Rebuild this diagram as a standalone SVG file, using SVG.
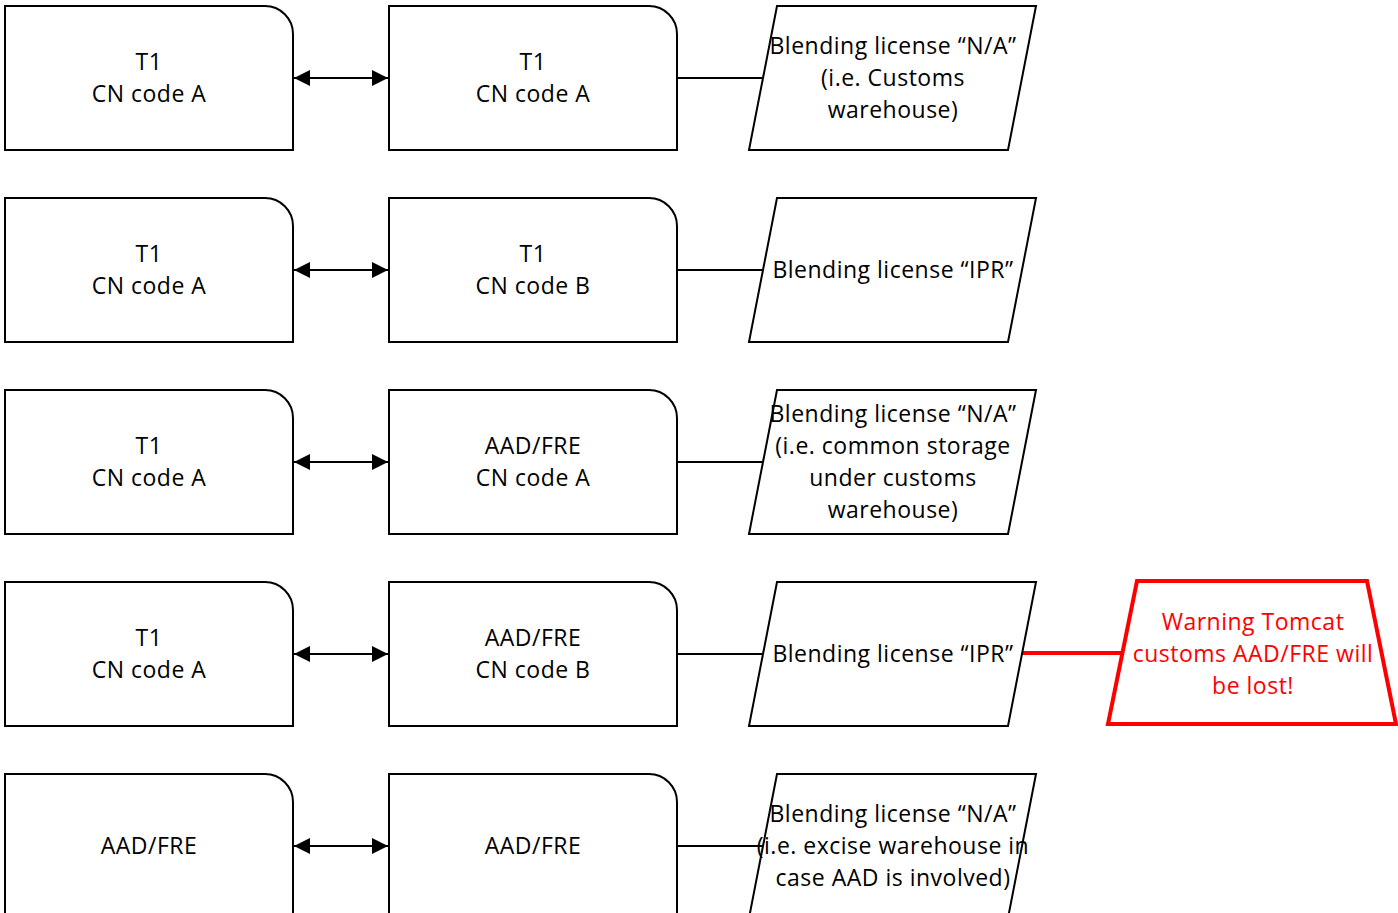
<svg xmlns="http://www.w3.org/2000/svg" width="1398" height="913" viewBox="0 0 1398 913">
<style>
.box{fill:#fff;stroke:#000;stroke-width:2}
.par{fill:#fff;stroke:#000;stroke-width:2}
.warn{fill:#fff;stroke:#ff0000;stroke-width:4;stroke-linejoin:miter}
text{font-family:"Open Sans","Liberation Sans",Arial,sans-serif;font-size:23px;letter-spacing:0.5px;fill:#000;text-anchor:middle}
.red{fill:#ff0000}
.ln{stroke:#000;stroke-width:2;fill:none}
.rln{stroke:#ff0000;stroke-width:4;fill:none}
</style>
<defs>
<path id="rbox" d="M0,0 H260 A28,28 0 0 1 288,28 V144 H0 Z"/>
<path id="para" d="M28,0 H287 L259,144 H0 Z"/>
<marker id="ah" viewBox="0 0 16 16" refX="16" refY="8" markerWidth="16" markerHeight="16" markerUnits="userSpaceOnUse" orient="auto-start-reverse">
<path d="M0,0 L16,8 L0,16 Z" fill="#000"/>
</marker>
</defs>
<g id="connectors">
<line class="ln" x1="294" y1="78" x2="388" y2="78" marker-start="url(#ah)" marker-end="url(#ah)"/>
<line class="ln" x1="677" y1="78" x2="763" y2="78"/>
<line class="ln" x1="294" y1="270" x2="388" y2="270" marker-start="url(#ah)" marker-end="url(#ah)"/>
<line class="ln" x1="677" y1="270" x2="763" y2="270"/>
<line class="ln" x1="294" y1="462" x2="388" y2="462" marker-start="url(#ah)" marker-end="url(#ah)"/>
<line class="ln" x1="677" y1="462" x2="763" y2="462"/>
<line class="ln" x1="294" y1="654" x2="388" y2="654" marker-start="url(#ah)" marker-end="url(#ah)"/>
<line class="ln" x1="677" y1="654" x2="763" y2="654"/>
<line class="rln" x1="1022" y1="653" x2="1121" y2="653"/>
<line class="ln" x1="294" y1="846" x2="388" y2="846" marker-start="url(#ah)" marker-end="url(#ah)"/>
<line class="ln" x1="677" y1="846" x2="763" y2="846"/>
</g>
<g id="r1a"><use href="#rbox" class="box" x="5" y="6"/><text x="149" y="70">T1</text><text x="149" y="102">CN code A</text></g>
<g id="r1b"><use href="#rbox" class="box" x="389" y="6"/><text x="533" y="70">T1</text><text x="533" y="102">CN code A</text></g>
<g id="r1c"><use href="#para" class="par" x="749" y="6"/><text x="893" y="54">Blending license “N/A”</text><text x="893" y="86">(i.e. Customs</text><text x="893" y="118">warehouse)</text></g>
<g id="r2a"><use href="#rbox" class="box" x="5" y="198"/><text x="149" y="262">T1</text><text x="149" y="294">CN code A</text></g>
<g id="r2b"><use href="#rbox" class="box" x="389" y="198"/><text x="533" y="262">T1</text><text x="533" y="294">CN code B</text></g>
<g id="r2c"><use href="#para" class="par" x="749" y="198"/><text x="893" y="278">Blending license “IPR”</text></g>
<g id="r3a"><use href="#rbox" class="box" x="5" y="390"/><text x="149" y="454">T1</text><text x="149" y="486">CN code A</text></g>
<g id="r3b"><use href="#rbox" class="box" x="389" y="390"/><text x="533" y="454">AAD/FRE</text><text x="533" y="486">CN code A</text></g>
<g id="r3c"><use href="#para" class="par" x="749" y="390"/><text x="893" y="422">Blending license “N/A”</text><text x="893" y="454">(i.e. common storage</text><text x="893" y="486">under customs</text><text x="893" y="518">warehouse)</text></g>
<g id="r4a"><use href="#rbox" class="box" x="5" y="582"/><text x="149" y="646">T1</text><text x="149" y="678">CN code A</text></g>
<g id="r4b"><use href="#rbox" class="box" x="389" y="582"/><text x="533" y="646">AAD/FRE</text><text x="533" y="678">CN code B</text></g>
<g id="r4c"><use href="#para" class="par" x="749" y="582"/><text x="893" y="662">Blending license “IPR”</text></g>
<g id="warning"><path class="warn" d="M1137,581 H1367 L1396,724 H1108 Z"/><text class="red" x="1253" y="630">Warning Tomcat</text><text class="red" x="1253" y="662">customs AAD/FRE will</text><text class="red" x="1253" y="694">be lost!</text></g>
<g id="r5a"><use href="#rbox" class="box" x="5" y="774"/><text x="149" y="854">AAD/FRE</text></g>
<g id="r5b"><use href="#rbox" class="box" x="389" y="774"/><text x="533" y="854">AAD/FRE</text></g>
<g id="r5c"><use href="#para" class="par" x="749" y="774"/><text x="893" y="822">Blending license “N/A”</text><text x="893" y="854">(i.e. excise warehouse in</text><text x="893" y="886">case AAD is involved)</text></g>
</svg>
